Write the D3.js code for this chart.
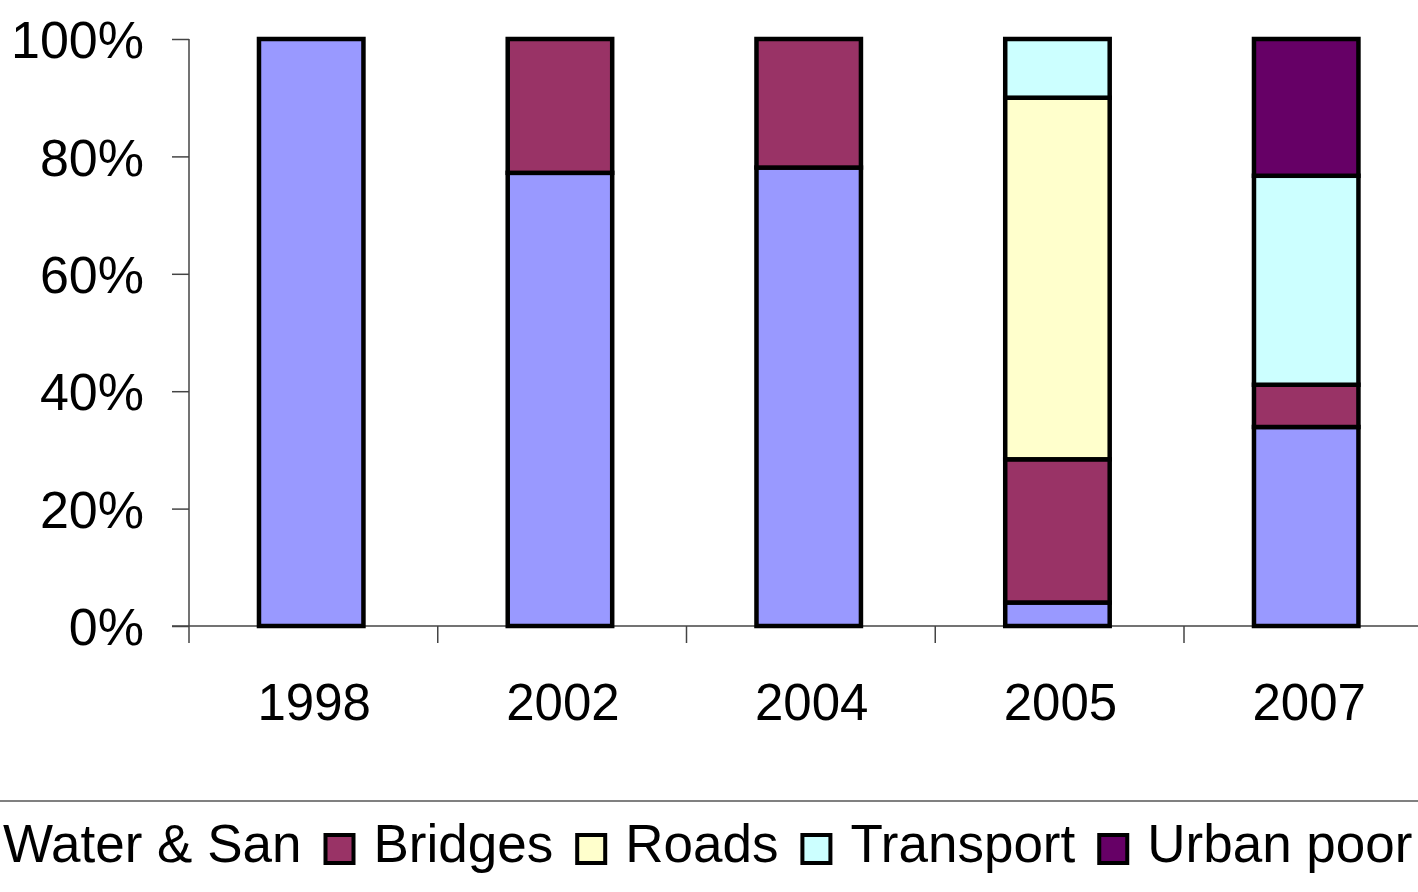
<!DOCTYPE html>
<html><head><meta charset="utf-8">
<script src="https://cdn.jsdelivr.net/npm/d3@7"></script>
<style>body{margin:0;background:#fff;overflow:hidden}svg{display:block}text{font-family:"Liberation Sans",Arial,sans-serif;fill:#000}</style>
</head><body>
<svg id="c" width="1418" height="892"></svg>
<script>
const categories = ["1998","2002","2004","2005","2007"];
const seriesNames = ["Water & San","Bridges","Roads","Transport","Urban poor"];
const waterSan  = [100, 77.2, 78.1, 4.0, 33.9];
const bridges   = [0, 22.8, 21.9, 24.4, 7.2];
const roads     = [0, 0, 0, 61.6, 0];
const transport = [0, 0, 0, 10.0, 35.6];
const urbanPoor = [0, 0, 0, 0, 23.3];
const yTicks = [0, 20, 40, 60, 80, 100];
const colors = ["#9999FF","#993366","#FFFFCC","#CCFFFF","#660066"];

const series = [waterSan, bridges, roads, transport, urbanPoor];
const table = categories.map((c,i)=>{const o={cat:c}; seriesNames.forEach((s,j)=>o[s]=series[j][i]); return o;});
const stacked = d3.stack().keys(seriesNames)(table);

const svg = d3.select("#c");
const x0 = 189, x1 = 1432.75;
const x = d3.scaleBand().domain(categories).range([x0, x1]).paddingInner(0.58).paddingOuter(0.29).align(0.485);
const y = d3.scaleLinear().domain([0,100]).range([626, 39]);
const axisColor = "#444";

// y axis
const yAxis = svg.append("g").attr("transform","translate("+x0+",0)")
  .call(d3.axisLeft(y).tickValues(yTicks).tickSize(17).tickPadding(28).tickFormat(d=>d+"%"));
yAxis.select(".domain").attr("stroke",axisColor).attr("stroke-width",1.5).attr("d","M0,"+y(100)+"V"+y(0));
yAxis.selectAll(".tick line").attr("stroke",axisColor).attr("stroke-width",1.5);
yAxis.selectAll(".tick text").attr("font-size",52).attr("dy","0.36em").style("font-family",'"Liberation Sans",Arial,sans-serif').attr("fill","#000");

// x axis baseline and ticks (between categories)
const step = x.step();
const bounds = d3.range(categories.length+1).map(i=>x0 + i*step);
svg.append("line").attr("x1",172).attr("x2",1418).attr("y1",y(0)).attr("y2",y(0)).attr("stroke",axisColor).attr("stroke-width",1.5);
svg.selectAll(".xt").data(bounds).join("line").attr("class","xt")
  .attr("x1",d=>d).attr("x2",d=>d).attr("y1",y(0)).attr("y2",y(0)+17).attr("stroke",axisColor).attr("stroke-width",1.5);
svg.selectAll(".xl").data(categories).join("text").attr("class","xl")
  .attr("x",d=>x(d)+x.bandwidth()/2+3).attr("y",720).attr("text-anchor","middle").attr("font-size",51).text(d=>d);

// bars
svg.append("g").selectAll("g").data(stacked).join("g").attr("fill",(d,i)=>colors[i])
  .selectAll("rect").data(d=>d.filter(p=>p[1]-p[0]>0)).join("rect")
  .attr("x",d=>x(d.data.cat)).attr("width",x.bandwidth())
  .attr("y",d=>y(d[1])).attr("height",d=>y(d[0])-y(d[1]))
  .attr("stroke","#000").attr("stroke-width",4.5);

// legend
svg.append("line").attr("x1",0).attr("x2",1418).attr("y1",801).attr("y2",801).attr("stroke","#808080").attr("stroke-width",2);
const lg = svg.append("g");
let cx = 3;
seriesNames.forEach((s,i)=>{
  if(i>0){
    cx += 22;
    lg.append("rect").attr("x",cx+2).attr("y",835).attr("width",28).attr("height",28)
      .attr("fill",colors[i]).attr("stroke","#000").attr("stroke-width",4);
    cx += 50;
  }
  const t = lg.append("text").attr("x",cx).attr("y",862).attr("font-size",53).text(s);
  cx += t.node().getComputedTextLength();
});
</script>
</body></html>
